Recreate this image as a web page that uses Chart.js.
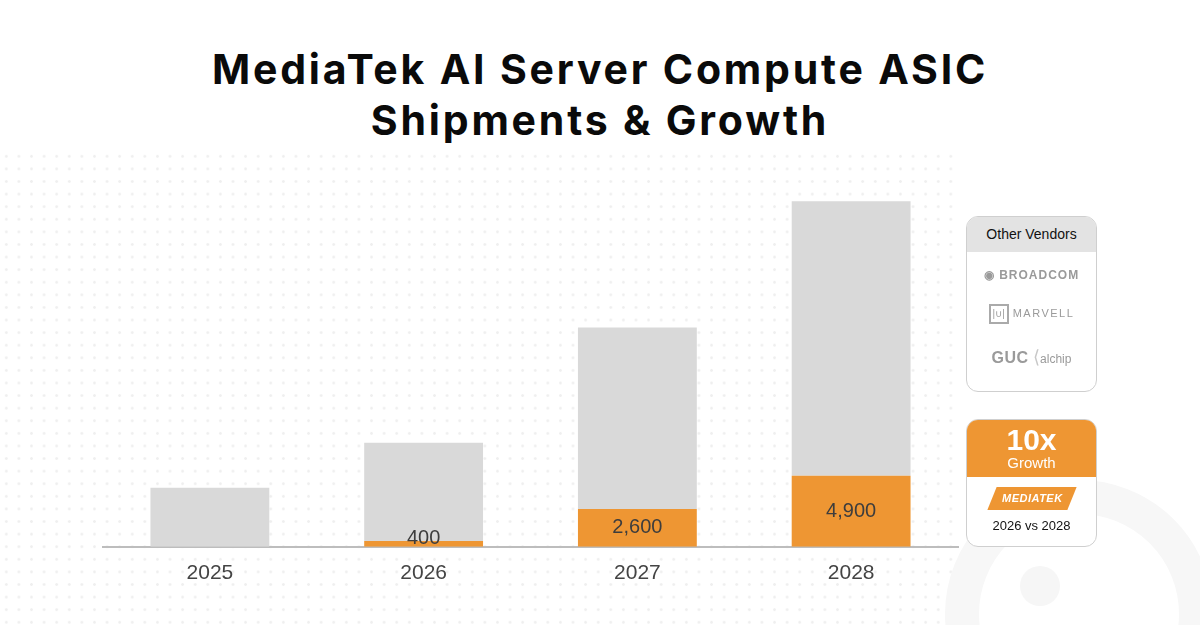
<!DOCTYPE html>
<html>
<head>
<meta charset="utf-8">
<script src="https://cdn.jsdelivr.net/npm/chart.js@4.4.1/dist/chart.umd.min.js"></script>
<style>
  html, body { margin: 0; padding: 0; }
  body {
    width: 1200px; height: 625px; position: relative; overflow: hidden;
    background: #ffffff; font-family: "Liberation Sans", Arial, sans-serif;
  }
  .dots {
    position: absolute; left: 0; top: 150px; width: 960px; height: 475px;
    background-image: radial-gradient(circle, #efefef 1.1px, transparent 1.6px);
    background-size: 12.6px 12.6px;
  }
  .ring {
    position: absolute; left: 945px; top: 480px; width: 200px; height: 200px;
    border: 34px solid #f7f7f7; border-radius: 50%;
  }
  .ringdot {
    position: absolute; left: 1020px; top: 566px; width: 40px; height: 40px;
    background: #f6f6f6; border-radius: 50%;
  }
  h1 {
    position: absolute; left: 0; top: 44px; width: 1200px; margin: 0;
    text-align: center; font-family: "Inter", sans-serif; font-weight: 700;
    font-size: 41px; line-height: 51px; color: #0a0a0a; letter-spacing: 2.8px;
  }
  #wrap { position: absolute; left: 0; top: 0; width: 1200px; height: 625px; }
  .box {
    position: absolute; left: 966px; width: 129px; border: 1px solid #cfcfcf;
    border-radius: 12px; background: #fff; overflow: hidden; text-align: center;
  }
  .vendors { top: 216px; height: 174px; }
  .vhead { height: 35px; line-height: 35px; background: #e3e3e3; font-size: 14px; color: #111; }
  .logo { color: #9a9a9a; position: absolute; left: 0; width: 129px; text-align: center; }
  .growth { top: 419px; height: 126px; }
  .ghead { height: 57px; background: #ee9633; color: #fff; }
  .big { font-size: 30px; font-weight: 700; line-height: 30px; padding-top: 5px; }
  .small { font-size: 15px; line-height: 16px; }
  .mtk {
    margin: 10px auto 0; width: 80px; height: 23px; background: #ee9633;
    transform: skewX(-22deg); color: #fff; font-weight: 700; font-style: italic;
    font-size: 11px; line-height: 23px; letter-spacing: 0.5px;
  }
  .vs { font-size: 13px; color: #111; margin-top: 8px; }
</style>
</head>
<body>
<div class="dots"></div>
<div class="ring"></div>
<div class="ringdot"></div>
<h1>MediaTek AI Server Compute ASIC<br>Shipments &amp; Growth</h1>
<div id="wrap"><canvas id="chart" width="1200" height="625"></canvas></div>

<div class="box vendors">
  <div class="vhead">Other Vendors</div>
  <div class="logo" style="top:51px;font-size:12px;font-weight:700;letter-spacing:1px;">&#9673; BROADCOM</div>
  <div class="logo" style="top:87px;font-size:11px;letter-spacing:1.5px;"><span style="display:inline-block;width:20px;height:20px;border:2px solid #aaa;box-sizing:border-box;vertical-align:middle;margin-right:4px;font-size:10px;line-height:16px;letter-spacing:0;">|&#8746;|</span>MARVELL</div>
  <div class="logo" style="top:129px;"><span style="font-size:16px;font-weight:700;letter-spacing:0.5px;">GUC</span> <span style="font-size:18px;color:#c8c8c8;">&#10216;</span><span style="font-size:12px;">alchip</span></div>
</div>

<div class="box growth">
  <div class="ghead">
    <div class="big">10x</div>
    <div class="small">Growth</div>
  </div>
  <div class="mtk"><span style="display:inline-block;transform:skewX(22deg);">MEDIATEK</span></div>
  <div class="vs">2026 vs 2028</div>
</div>

<script>
// Werte (Stück)
const jahre = ['2025', '2026', '2027', '2028'];
const mediatekWerte = [0, 400, 2600, 4900];
const andereWerte = [4080, 6780, 12530, 18950];

const orange = '#ee9633';
const grau = '#d9d9d9';

// Beschriftung der MediaTek-Balken
const balkenLabels = {
  id: 'balkenLabels',
  afterDatasetsDraw(chart) {
    const ctx = chart.ctx;
    const meta = chart.getDatasetMeta(0);
    ctx.save();
    ctx.font = '20px "Liberation Sans", Arial, sans-serif';
    ctx.fillStyle = '#3d3d3d';
    ctx.textAlign = 'center';
    ctx.textBaseline = 'middle';
    meta.data.forEach((bar, i) => {
      const wert = mediatekWerte[i];
      if (!wert) return;
      const y = Math.min((bar.y + bar.base) / 2, bar.base - 8);
      ctx.fillText(wert.toLocaleString('en-US'), bar.x, y);
    });
    ctx.restore();
  }
};

new Chart(document.getElementById('chart'), {
  type: 'bar',
  data: {
    labels: jahre,
    datasets: [
      { label: 'MediaTek', data: mediatekWerte, backgroundColor: orange, stack: 's' },
      { label: 'Other Vendors', data: andereWerte, backgroundColor: grau, stack: 's' }
    ]
  },
  options: {
    responsive: false,
    animation: false,
    devicePixelRatio: 1,
    layout: { padding: { left: 103, right: 242, top: 199, bottom: 33 } },
    plugins: { legend: { display: false }, tooltip: { enabled: false } },
    datasets: { bar: { categoryPercentage: 1, barPercentage: 0.556 } },
    scales: {
      x: {
        stacked: true,
        grid: { display: false },
        border: { display: true, color: '#bdbdbd', width: 2 },
        ticks: { color: '#444', font: { size: 21, family: '"Liberation Sans", Arial, sans-serif' }, padding: 6 }
      },
      y: {
        stacked: true,
        display: false,
        min: 0,
        max: 24000
      }
    }
  },
  plugins: [balkenLabels]
});
</script>
</body>
</html>
